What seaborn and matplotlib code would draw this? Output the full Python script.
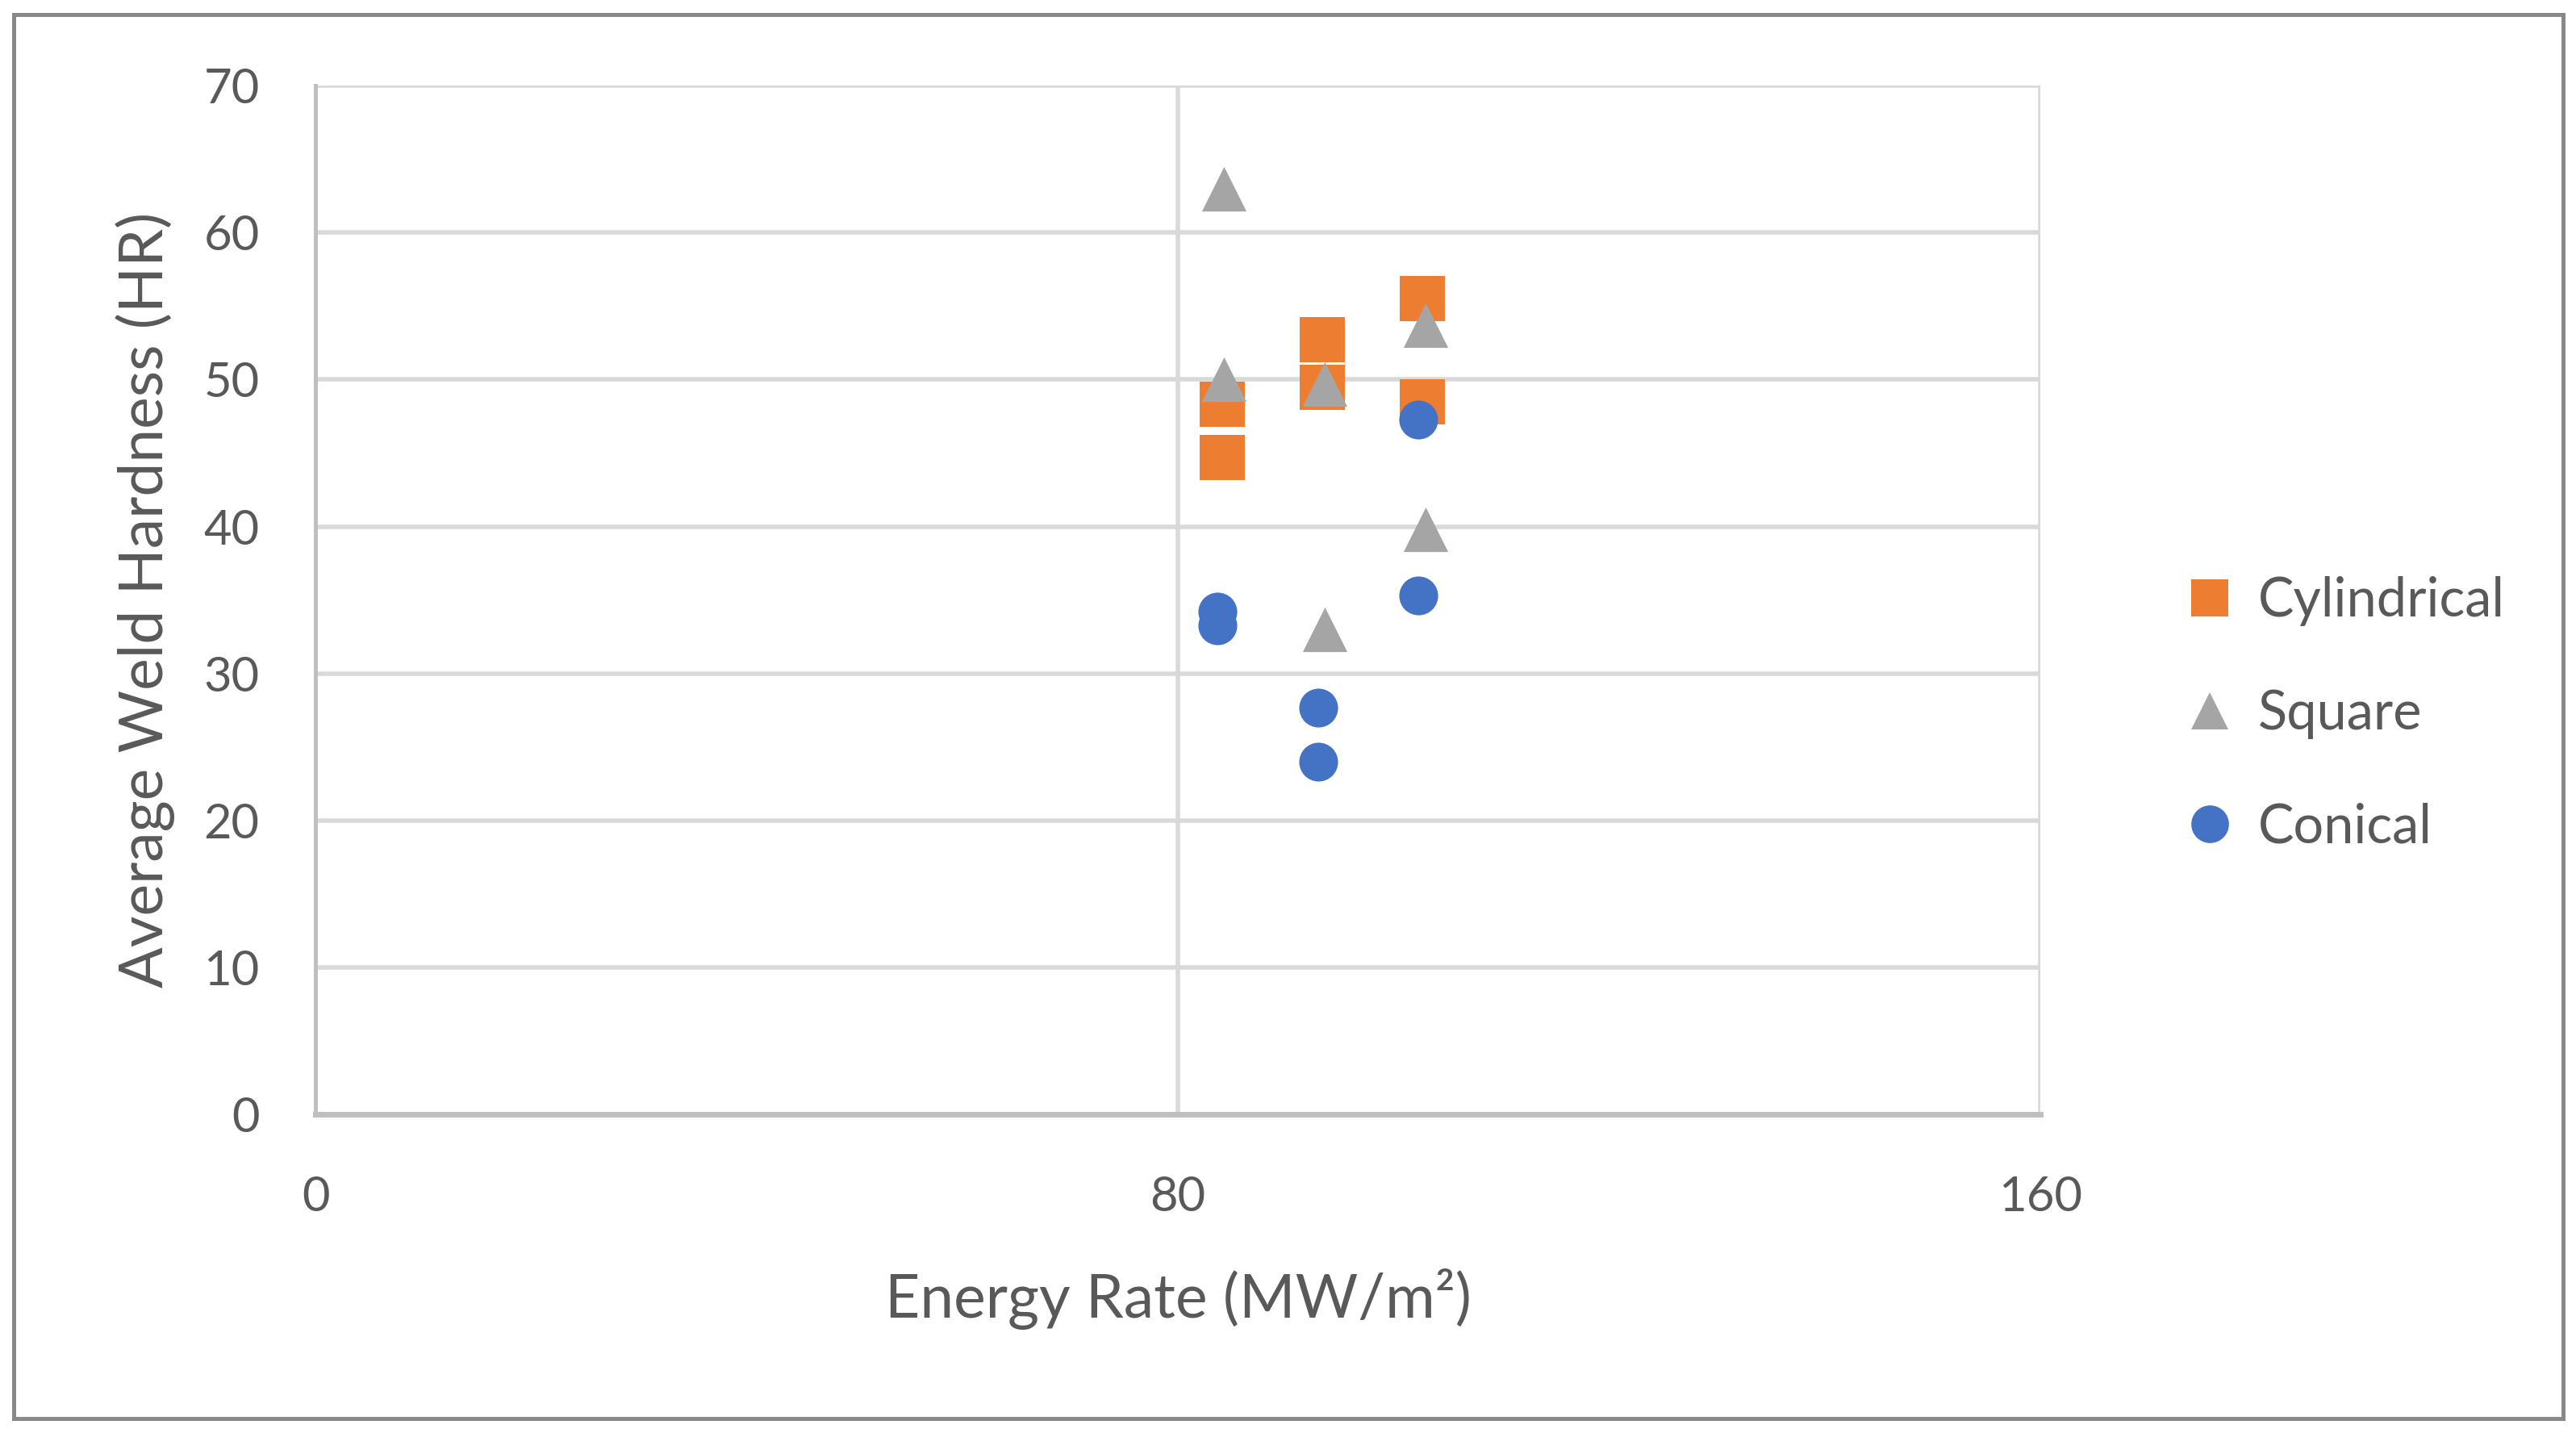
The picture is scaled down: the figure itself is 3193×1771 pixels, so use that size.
import pandas as pd
import matplotlib
matplotlib.use("Agg")
import matplotlib.pyplot as plt
from matplotlib.lines import Line2D
from matplotlib.patches import Rectangle
import seaborn as sns

# values
shapes = ["Cylindrical", "Square", "Conical"]
cyl_rate = [84.1, 84.1, 93.4, 93.4, 102.7, 102.7]
cyl_hard = [48.3, 44.7, 52.7, 49.5, 55.5, 48.5]
sq_rate = [84.3, 84.3, 93.6, 93.6, 103.0, 103.0]
sq_hard = [63.0, 50.0, 49.7, 33.0, 53.7, 39.8]
con_rate = [83.7, 83.7, 93.0, 93.0, 102.3, 102.3]
con_hard = [34.2, 33.3, 27.7, 24.0, 47.3, 35.3]
x_ticks = [0, 80, 160]
y_ticks = [0, 10, 20, 30, 40, 50, 60, 70]

colors = {"Cylindrical": "#ED7D31", "Square": "#A5A5A5", "Conical": "#4472C4"}
markers = {"Cylindrical": "s", "Square": "^", "Conical": "o"}
sizes = {"Cylindrical": 395, "Square": 395, "Conical": 300}

df = pd.concat([
    pd.DataFrame({"rate": cyl_rate, "hard": cyl_hard, "shape": "Cylindrical"}),
    pd.DataFrame({"rate": sq_rate, "hard": sq_hard, "shape": "Square"}),
    pd.DataFrame({"rate": con_rate, "hard": con_hard, "shape": "Conical"}),
], ignore_index=True)

sns.set_style("white")
plt.rcParams["font.family"] = ["Lato", "DejaVu Sans"]
text_color = "#595959"

fig = plt.figure(figsize=(15.965, 8.855), dpi=200)
ax = fig.add_axes([0.1225, 0.2202, 0.792 - 0.1225, 0.940 - 0.2202])

for name in shapes:
    sub = df[df["shape"] == name]
    sns.scatterplot(data=sub, x="rate", y="hard", color=colors[name],
                    marker=markers[name], s=sizes[name], linewidth=0,
                    ax=ax, legend=False, zorder=3)

ax.set_xlim(0, 160)
ax.set_ylim(0, 70)
ax.set_xticks(x_ticks)
ax.set_yticks(y_ticks)
ax.grid(True, color="#d9d9d9", linewidth=2.0)
ax.set_axisbelow(True)
for side in ["top", "right"]:
    ax.spines[side].set_visible(False)
ax.spines["left"].set_color("#bfbfbf")
ax.spines["left"].set_linewidth(1.8)
ax.spines["bottom"].set_color("#bfbfbf")
ax.spines["bottom"].set_linewidth(2.5)
ax.spines["left"].set_zorder(2)
ax.spines["bottom"].set_zorder(2)
ax.tick_params(axis="both", length=0, labelsize=21.5, labelcolor=text_color)
ax.tick_params(axis="y", pad=25)
ax.tick_params(axis="x", pad=27.5)

ax.set_xlabel("Energy Rate (MW/m²)", fontsize=27, color=text_color)
ax.set_ylabel("Average Weld Hardness (HR)", fontsize=27, color=text_color)
ax.xaxis.set_label_coords(0.5, -0.18)
ax.xaxis.label.set_va("center")
ax.yaxis.set_label_coords(-0.0987, 0.5)
ax.yaxis.label.set_va("center")

handles = [
    Line2D([], [], linestyle="none", marker=markers[name], color=colors[name],
           markersize=16.8, markeredgewidth=0)
    for name in shapes
]
fig.legend(handles, shapes, loc="center left", bbox_to_anchor=(0.837, 0.5),
           frameon=False, fontsize=24, labelcolor=text_color,
           handlelength=1.0, handletextpad=0.4, labelspacing=1.17, borderpad=0)

fig.patches.append(Rectangle((17 / 3193, 13 / 1771), 3160 / 3193, 1740 / 1771,
                             transform=fig.transFigure, fill=False,
                             edgecolor="#898989", linewidth=1.8))

fig.savefig("out.png", dpi=200, facecolor="white")
